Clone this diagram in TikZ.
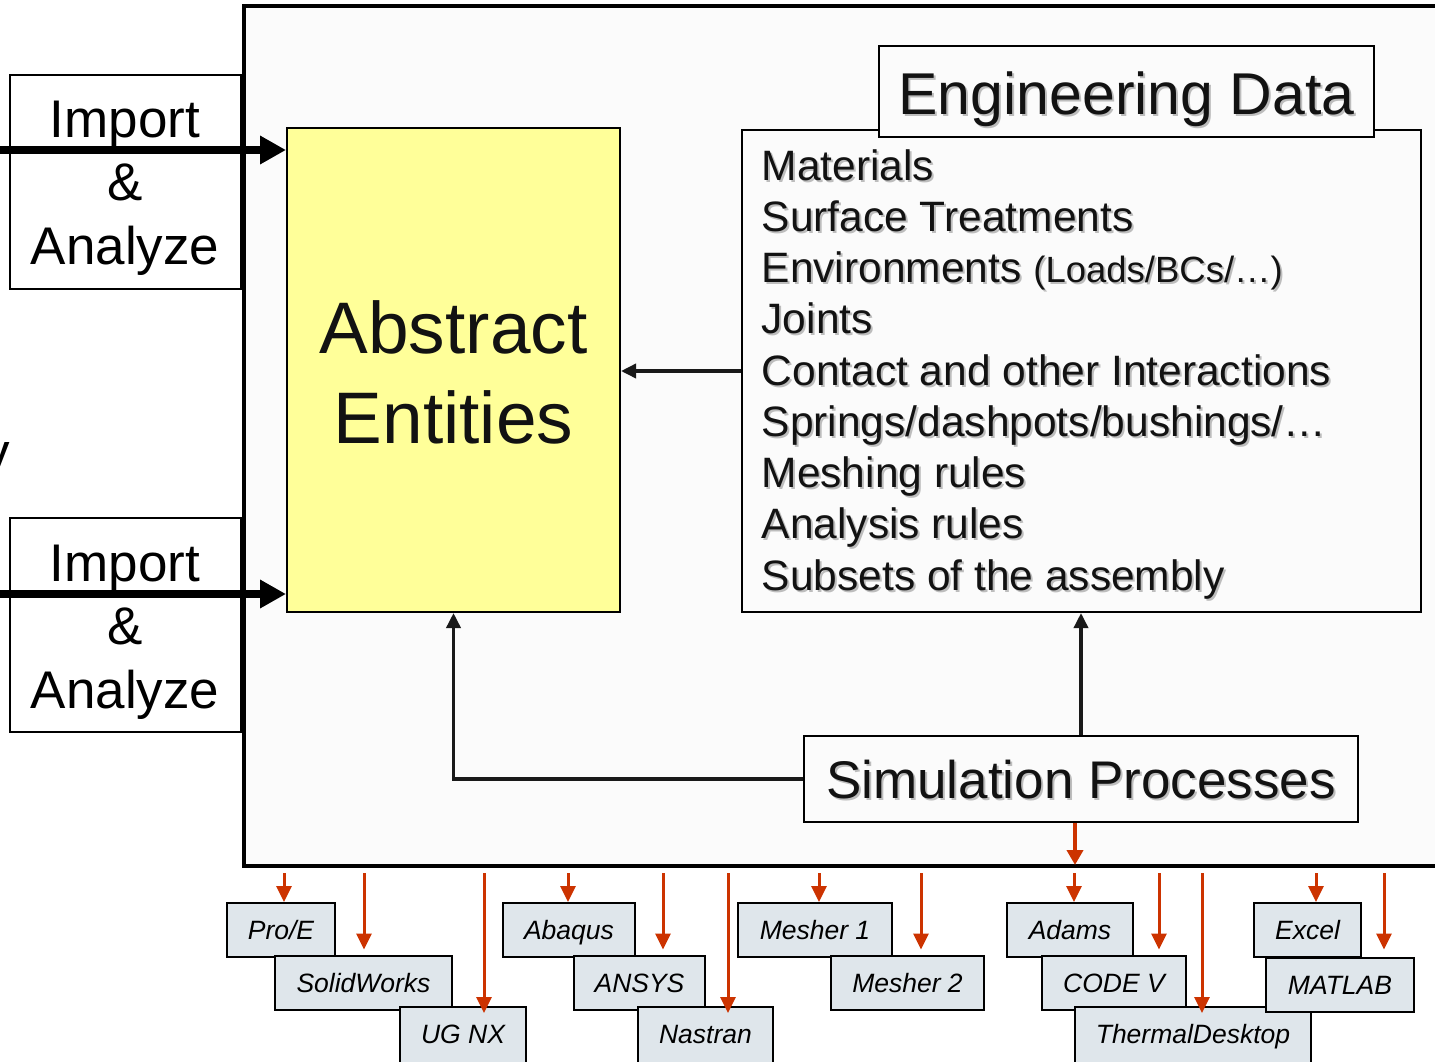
\documentclass[tikz,border=0pt]{standalone}
\usepackage{fontspec}
\setmainfont{Liberation Sans}
\usetikzlibrary{arrows.meta}
\definecolor{mainfill}{HTML}{FBFBFB}
\definecolor{aeyellow}{HTML}{FFFF99}
\definecolor{toolfill}{HTML}{DFE6EB}
\definecolor{redarr}{HTML}{CC3300}
\definecolor{shade}{HTML}{BDBDBD}
\newcommand{\fsz}[1]{\fontsize{#1}{#1}\selectfont}
\begin{document}
\begin{tikzpicture}[x=1pt,y=-1pt,
  boxa/.style={draw=black, line width=2pt, inner sep=0pt, anchor=center},
  txt/.style={inner sep=0pt, anchor=base},
  imparr/.style={line width=8pt, -{Triangle[length=26pt,width=27pt]}},
  conn/.style={line width=3.5pt, draw=black!90, -{Triangle[length=15pt,width=14pt]}},
  rarr/.style={draw=redarr, line width=3pt, -{Triangle[length=16pt,width=15pt]}, color=redarr},
  rbig/.style={draw=redarr, line width=4pt, -{Triangle[length=15pt,width=16pt]}, color=redarr},
  tool/.style={draw=black, line width=2pt, fill=toolfill, inner sep=0pt, anchor=center,
    text height=19pt, text depth=0pt, font=\fsz{26.5}\itshape, minimum height=54pt},
  toolc/.style={tool, minimum height=60pt, text depth=6pt},
]
\useasboundingbox (0,0) rectangle (1435,1061);
\clip (0,0) rectangle (1435,1061);
\fill[white] (0,0) rectangle (1435,1061);

% main frame
\node[draw=black, line width=4pt, fill=mainfill, inner sep=0pt, minimum width=1201pt, minimum height=860pt] (main) at (844.5,436) {};

% cut-off letter at the left edge
\node[inner sep=0pt, anchor=base east, font=\fsz{53}] (cut) at (10,470) {y};

% import boxes
\node[boxa, fill=white, minimum width=231pt, minimum height=214pt] (imp1) at (125.5,182) {};
\node[boxa, fill=white, minimum width=231pt, minimum height=214pt] (imp2) at (125.5,625) {};
\node[txt, font=\fsz{53}] (imp1a) at (125,137) {Import};
\node[txt, font=\fsz{53}] (imp1b) at (125,200) {\&};
\node[txt, font=\fsz{53}] (imp1c) at (125,264) {Analyze};
\node[txt, font=\fsz{53}] (imp2a) at (125,581) {Import};
\node[txt, font=\fsz{53}] (imp2b) at (125,644) {\&};
\node[txt, font=\fsz{53}] (imp2c) at (125,708) {Analyze};

% abstract entities
\node[boxa, fill=aeyellow, minimum width=333pt, minimum height=484pt] (ae) at (453.5,370) {};
\node[txt, font=\fsz{73}, text=black!93] (ae1) at (453.5,353) {Abstract};
\node[txt, font=\fsz{73}, text=black!93] (ae2) at (453.5,443) {Entities};

% engineering data list
\node[boxa, fill=mainfill, minimum width=679pt, minimum height=482pt] (list) at (1081.5,371) {};
\node[boxa, fill=mainfill, minimum width=495pt, minimum height=91pt] (title) at (1126.5,91.5) {};
\node[txt, font=\fsz{59}, text=shade] (titles) at (1128.5,116) {Engineering Data};
\node[txt, font=\fsz{59}, text=black!93] (titlet) at (1126.5,114) {Engineering Data};

\foreach \t [count=\i from 0] in {Materials, Surface Treatments, {Environments {\fsz{36.5}(Loads/BCs/…)}}, Joints, Contact and other Interactions, Springs/dashpots/bushings/…, Meshing rules, Analysis rules, Subsets of the assembly}{
  \node[inner sep=0pt, anchor=base west, font=\fsz{42.5}, text=shade] (lis\i) at (763.5,{182+51.25*\i}) {\t};
  \node[inner sep=0pt, anchor=base west, font=\fsz{42.5}, text=black!93] (li\i) at (761.5,{180+51.25*\i}) {\t};
}

% simulation processes
\node[boxa, fill=mainfill, minimum width=554pt, minimum height=86pt] (sp) at (1081,779) {};
\node[txt, font=\fsz{53}, text=shade] (sps) at (1083,800) {Simulation Processes};
\node[txt, font=\fsz{53}, text=black!93] (spt) at (1081,798) {Simulation Processes};

% connectors inside frame
\draw[conn] (list.west) -- (list.west -| ae.east);
\draw[conn] (sp.north) -- (sp.north |- list.south);
\draw[conn] (sp.west) -| (ae.south);
\draw[rbig] ([xshift=-6pt]sp.south) -- ([xshift=-6pt,yshift=3pt]sp.south |- main.south);

% import arrows
\coordinate (in1) at (-5,150);
\coordinate (in2) at (-5,594);
\draw[imparr] (in1) -- (in1 -| ae.west);
\draw[imparr] (in2) -- (in2 -| ae.west);

% tools
\node[tool, minimum width=108pt] (proe) at (281,930) {Pro/E};
\node[tool, minimum width=177pt] (sw) at (363.5,982.5) {SolidWorks};
\node[toolc, minimum width=126pt] (ugnx) at (463,1037) {UG NX};
\node[tool, minimum width=132pt] (abq) at (569,930) {Abaqus};
\node[tool, minimum width=131pt] (ans) at (639.5,982.5) {ANSYS};
\node[toolc, minimum width=135pt] (nas) at (705.5,1037) {Nastran};
\node[tool, minimum width=154pt] (m1) at (815,930) {Mesher 1};
\node[tool, minimum width=153pt] (m2) at (907.5,982.5) {Mesher 2};
\node[tool, minimum width=126pt] (adm) at (1070,930) {Adams};
\node[tool, minimum width=144pt] (cv) at (1114,982.5) {CODE V};
\node[toolc, minimum width=236pt] (td) at (1193,1037) {ThermalDesktop};
\node[tool, minimum width=107pt] (xl) at (1307.5,930) {Excel};
\node[tool, minimum width=148pt] (ml) at (1340,984.5) {MATLAB};

% red arrows to tools
\draw[rarr] ([xshift=3pt,yshift=-5pt]main.south -| proe.north) -- ([xshift=3pt]proe.north);
\draw[rarr] ([xshift=0.5pt,yshift=-5pt]main.south -| sw.north) -- ([xshift=0.5pt,yshift=5pt]sw.north);
\draw[rarr] ([xshift=21pt,yshift=-5pt]main.south -| ugnx.north) -- ([xshift=21pt,yshift=-7pt]ugnx.north);
\draw[rarr] ([xshift=-1pt,yshift=-5pt]main.south -| abq.north) -- ([xshift=-1pt]abq.north);
\draw[rarr] ([xshift=23.5pt,yshift=-5pt]main.south -| ans.north) -- ([xshift=23.5pt,yshift=5pt]ans.north);
\draw[rarr] ([xshift=22.5pt,yshift=-5pt]main.south -| nas.north) -- ([xshift=22.5pt,yshift=-7pt]nas.north);
\draw[rarr] ([xshift=4pt,yshift=-5pt]main.south -| m1.north) -- ([xshift=4pt]m1.north);
\draw[rarr] ([xshift=13.5pt,yshift=-5pt]main.south -| m2.north) -- ([xshift=13.5pt,yshift=5pt]m2.north);
\draw[rarr] ([xshift=4pt,yshift=-5pt]main.south -| adm.north) -- ([xshift=4pt]adm.north);
\draw[rarr] ([xshift=45pt,yshift=-5pt]main.south -| cv.north) -- ([xshift=45pt,yshift=5pt]cv.north);
\draw[rarr] ([xshift=9pt,yshift=-5pt]main.south -| td.north) -- ([xshift=9pt,yshift=-7pt]td.north);
\draw[rarr] ([xshift=8.5pt,yshift=-5pt]main.south -| xl.north) -- ([xshift=8.5pt]xl.north);
\draw[rarr] ([xshift=44pt,yshift=-5pt]main.south -| ml.north) -- ([xshift=44pt,yshift=7pt]ml.north);
\end{tikzpicture}
\end{document}
